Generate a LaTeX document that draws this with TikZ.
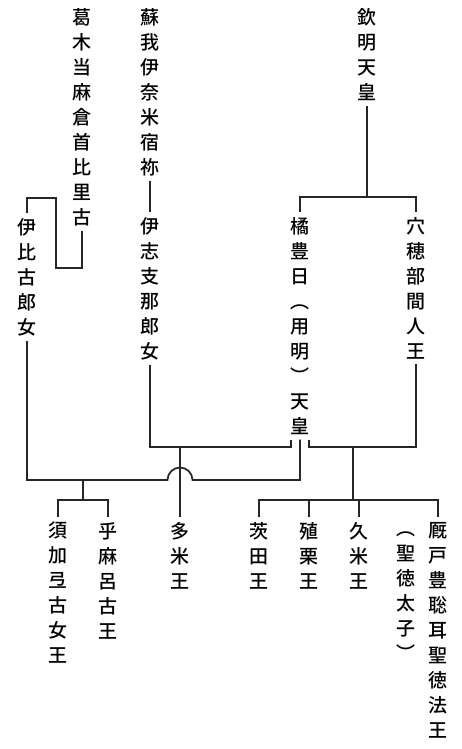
\documentclass[tikz,border=0pt]{standalone}
\usepackage{fontspec}
\newfontfamily\jp{Noto Sans CJK JP Medium}
\usetikzlibrary{positioning}

\begin{document}
\begin{tikzpicture}[x=1pt, y=-1pt,
  person/.style={inner xsep=0pt, inner ysep=5pt, anchor=north, align=center, font=\jp\fontsize{19}{25}\selectfont},
  link/.style={draw=black!85, line width=1.7pt}
]
\useasboundingbox (0,0) rectangle (462,749);
% parents
\node[person] (kinmei) at (367,3) {欽\\明\\天\\皇};
\node[person] (soga) at (150,3) {蘇\\我\\伊\\奈\\米\\宿\\祢};
\node[person] (katsuragi) at (82,3) {葛\\木\\当\\麻\\倉\\首\\比\\里\\古};
\node[person] (ihiko) at (27,213) {伊\\比\\古\\郎\\女};
\node[person] (ishiki) at (150,212) {伊\\志\\支\\那\\郎\\女};
\node[person] (yomei) at (300,212) {橘\\豊\\日\\︵\\用\\明\\︶\\天\\皇};
\node[person] (anahobe) at (416,212) {穴\\穂\\部\\間\\人\\王};
% children
\node[person] (suka) at (58,517) {須\\加\\弖\\古\\女\\王};
\node[person] (omaro) at (108,517) {乎\\麻\\呂\\古\\王};
\node[person] (tame) at (180,517) {多\\米\\王};
\node[person] (mamuta) at (259,517) {茨\\田\\王};
\node[person] (ekuri) at (309,517) {殖\\栗\\王};
\node[person] (kume) at (359,517) {久\\米\\王};
\node[person] (umayado) at (438,517) {厩\\戸\\豊\\聡\\耳\\聖\\徳\\法\\王};
\node[person] (shotoku) at (406,527) {︵\\聖\\徳\\太\\子\\︶};
% junctions
\coordinate (jkinmei) at (367,197);
\coordinate (jishiki) at (180,447);
\coordinate (janahobe) at (353,447);
\coordinate (jihiko) at (83,480);
\coordinate (bihiko) at (83,500);
\coordinate (banahobe) at (353,500);
% lines
\draw[link] (kinmei) -- (jkinmei);
\draw[link] (yomei.north) |- (jkinmei) -| (anahobe.north);
\draw[link] (soga) -- (ishiki);
\draw[link] (ihiko.north) |- ++(29,-15) |- ++(26,70) -- (katsuragi.south);
\draw[link] (ishiki.south) |- ([xshift=-9pt]yomei.south |- jishiki) -- ([xshift=-9pt]yomei.south);
\draw[link] ([xshift=9pt]yomei.south) |- (janahobe) -| (anahobe.south);
\draw[link] (jishiki) -- (tame.north);
\draw[link] (ihiko.south) |- ([xshift=-12.5pt]jishiki |- jihiko) arc[start angle=180, end angle=360, radius=12.5] -| (yomei.south);
\draw[link] (jihiko) -- (bihiko);
\draw[link] (suka.north) |- (bihiko) -| (omaro.north);
\draw[link] (janahobe) -- (banahobe);
\draw[link] (mamuta.north) |- (banahobe) -| (umayado.north);
\draw[link] (ekuri.north) -- (ekuri.north |- banahobe);
\draw[link] (kume.north) -- (kume.north |- banahobe);
\end{tikzpicture}
\end{document}
